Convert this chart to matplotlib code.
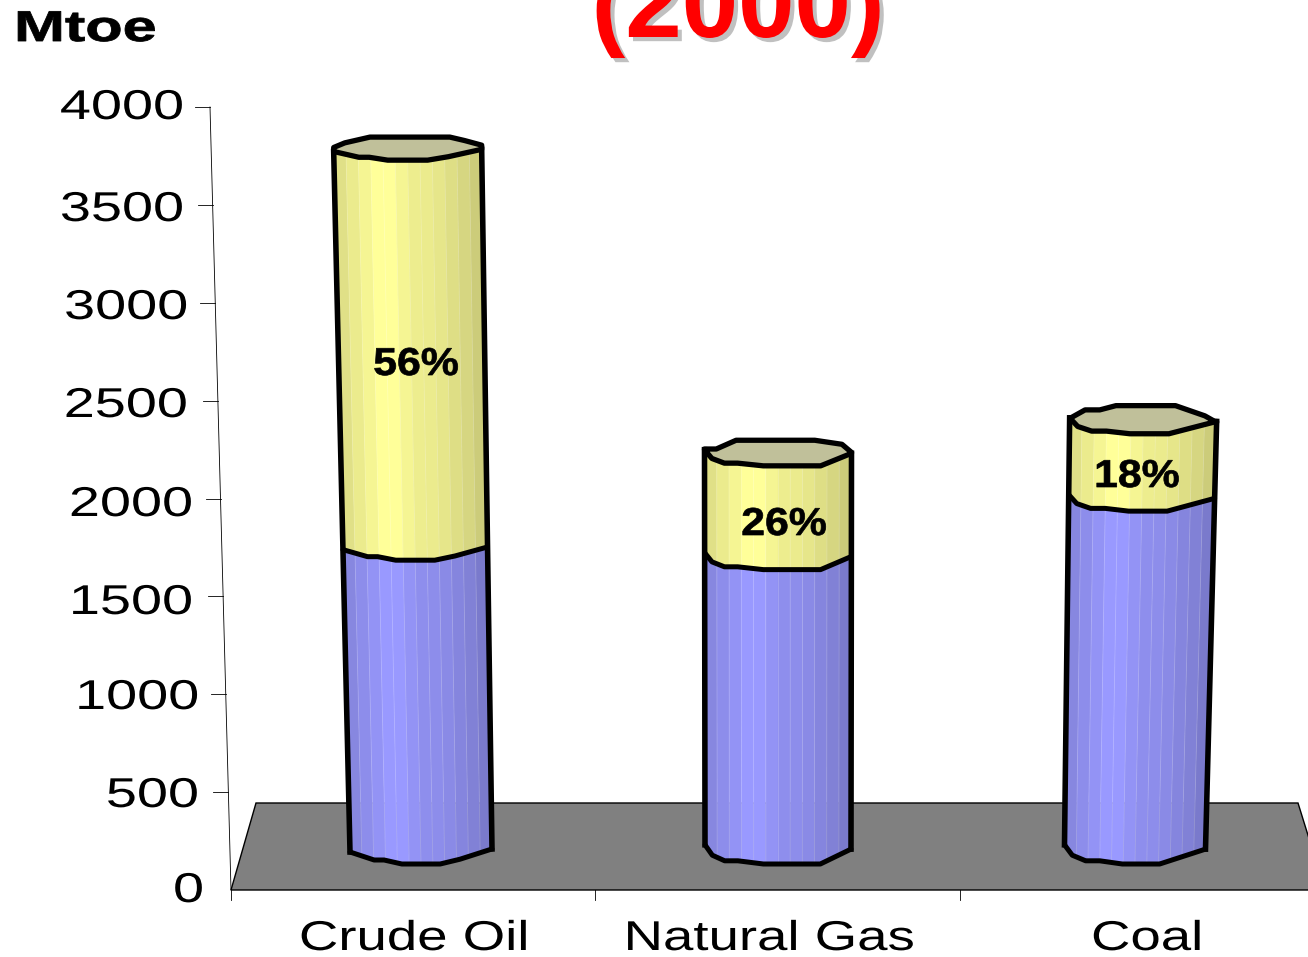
import numpy as np
import matplotlib
matplotlib.use('Agg')
import matplotlib.pyplot as plt
from matplotlib.patches import Polygon
from matplotlib.patheffects import AbstractPathEffect, SimplePatchShadow, Normal
from matplotlib.transforms import Affine2D

# data
categories = ['Crude Oil', 'Natural Gas', 'Coal']
blue_top = [1610, 1560, 1870]
total_top = [3730, 2110, 2280]
percent_labels = ['56%', '26%', '18%']
y_ticks = [0, 500, 1000, 1500, 2000, 2500, 3000, 3500, 4000]

# layout, in image pixels
base_x = [421, 778, 1135]
half_bottom = [71, 73, 70.5]
half_top = [74, 73.5, 73.5]
base_y = 848
px_per_unit = 0.1875
label_x = [414, 769, 1147]
pct_pos = [(416, 365), (784, 525), (1137, 477)]
tick_label_right = [204, 199, 199, 193, 193, 188, 188, 184, 184]
tick_label_y = [891, 796, 698, 603, 505, 406, 308, 210, 108]

# outline of each cylinder (across the bar, share of the depth)
front_u = [[-1, -.66, -.52, -.27, .27, .55, 1],
           [-1, -.9, -.73, -.55, -.2, .58, 1],
           [-1, -.89, -.7, -.5, -.18, .35, 1]]
front_f = [[.25, .75, .75, 1, 1, .7, .06],
           [-.2, .45, .8, .8, 1, 1, .07],
           [-.2, .45, .8, .8, 1, 1, .07]]
back_u = [[-1, -.85, -.51, .57, .77, 1],
          [-1, -.84, -.57, .5, .87, 1],
          [-1, -.79, -.59, -.37, .44, .84, 1]]
back_f = [[-.1, -.5, -1, -1, -.7, -.3],
          [-.25, -.25, -.9, -.9, -.6, 0],
          [-.15, -.8, -.8, -1.12, -1.12, -.35, .15]]
shades = [.88, .92, .96, 1, 1, .96, .93, .92, .9, .87, .84, .8]


class StretchX(AbstractPathEffect):
    # wide text like in the original slide
    def __init__(self, sx, cx, stroke=0):
        super().__init__()
        self.sx = sx
        self.cx = cx
        self.stroke = stroke

    def draw_path(self, renderer, gc, tpath, affine, rgbFace=None):
        t = affine + Affine2D().translate(-self.cx, 0).scale(self.sx, 1).translate(self.cx, 0)
        gc0 = renderer.new_gc()
        gc0.copy_properties(gc)
        gc0.set_linewidth(self.stroke)
        gc0.set_foreground(rgbFace if rgbFace is not None else 'black')
        renderer.draw_path(gc0, tpath, t, rgbFace)
        gc0.restore()


plt.rcParams['font.family'] = ['Liberation Sans', 'DejaVu Sans']
fig = plt.figure(figsize=(13.08, 9.57), dpi=100)
ax = fig.add_axes([0, 0, 1, 1])
ax.set_xlim(0, 1308)
ax.set_ylim(957, 0)
ax.axis('off')


def wide_text(x, y, s, sx, stroke=0, **kw):
    t = ax.text(x, y, s, **kw)
    t.set_path_effects([StretchX(sx, x, stroke)])
    return t


def val_y(v):
    return base_y - px_per_unit * v


def depth(v):
    return 16 - 0.0012 * v


def bar_pt(i, u, v, f):
    # position on the bar i at value v, perspective pushes upper part outwards
    cx = base_x[i] + (base_x[i] - 778) * 1e-5 * v
    hw = half_bottom[i] + (half_top[i] - half_bottom[i]) * v / total_top[i]
    return cx + u * hw, val_y(v) + f * depth(v)


def front_curve(i, v):
    edges = np.linspace(-1, 1, 13)
    uu = sorted(set(list(edges) + front_u[i]))
    ff = np.interp(uu, front_u[i], front_f[i])
    return uu, [bar_pt(i, u, v, f) for u, f in zip(uu, ff)]


def draw_section(i, v0, v1, rgb):
    edges = np.linspace(-1, 1, 13)
    for k in range(12):
        uu = np.linspace(edges[k], edges[k + 1], 6)
        ff = np.interp(uu, front_u[i], front_f[i])
        low = [bar_pt(i, u, v0, f) for u, f in zip(uu, ff)]
        high = [bar_pt(i, u, v1, f) for u, f in zip(uu, ff)]
        col = tuple(c * shades[k] for c in rgb)
        ax.add_patch(Polygon(low + high[::-1], closed=True, fc=col, ec=col, lw=0.3, zorder=3))
        if 0 < k:
            ax.plot([low[0][0], high[0][0]], [low[0][1], high[0][1]], color='white', alpha=.2, lw=.6, zorder=3.5)


# floor
ax.add_patch(Polygon([(231, 890), (256, 803), (1298, 803), (1325, 890)], closed=True,
                     fc='#808080', ec='black', lw=1, zorder=1, clip_on=True))

# axes lines and ticks
ax.plot([231, 210], [890, 107], color='black', lw=.6, zorder=2)
for v, r, ly in zip(y_ticks, tick_label_right, tick_label_y):
    ty = 890 - v * 783 / 4000
    tx = 231 - v * 21 / 4000
    if v > 0:
        ax.plot([tx - 15, tx], [ty, ty], color='black', lw=.6, zorder=2)
    wide_text(r, ly, str(v), 1.34, ha='right', va='center', fontsize=30, color='black')
for x in [231, 595, 960]:
    ax.plot([x, x], [890, 900], color='black', lw=.6, zorder=2)

# bars
for i in range(3):
    draw_section(i, 0, blue_top[i], (0.6, 0.6, 1.0))
    draw_section(i, blue_top[i], total_top[i], (1.0, 1.0, 0.6))

    uu, bottom = front_curve(i, 0)
    _, middle = front_curve(i, blue_top[i])
    _, top = front_curve(i, total_top[i])

    back = [bar_pt(i, u, total_top[i], f) for u, f in zip(back_u[i], back_f[i])]
    ax.add_patch(Polygon(top + back[::-1], closed=True, fc='#C0C09A', ec='black', lw=3.8,
                         joinstyle='round', zorder=4))
    for curve in (bottom, middle):
        ax.plot(*zip(*curve), color='black', lw=3.6, solid_capstyle='round', zorder=4)
    ax.plot([bottom[0][0], top[0][0]], [bottom[0][1], top[0][1]], color='black', lw=4, zorder=4)
    ax.plot([bottom[-1][0], top[-1][0]], [bottom[-1][1], top[-1][1]], color='black', lw=4, zorder=4)

    wide_text(pct_pos[i][0], pct_pos[i][1], percent_labels[i], 1.1, stroke=.5, ha='center', va='center',
              fontsize=28, fontweight='bold', color='black', zorder=5)
    wide_text(label_x[i], 939, categories[i], 1.31, ha='center', va='center',
              fontsize=30, color='black')

wide_text(14, 30, 'Mtoe', 1.42, stroke=.6, ha='left', va='center', fontsize=31, fontweight='bold', color='black')

title = ax.text(738, 37, '(2000)', ha='center', va='baseline', fontsize=73, fontweight='bold',
                color='#FF0000')
title.set_path_effects([SimplePatchShadow(offset=(3, -3), shadow_rgbFace='#C0C0C0', alpha=1), Normal()])

fig.savefig('out.png', dpi=100)
